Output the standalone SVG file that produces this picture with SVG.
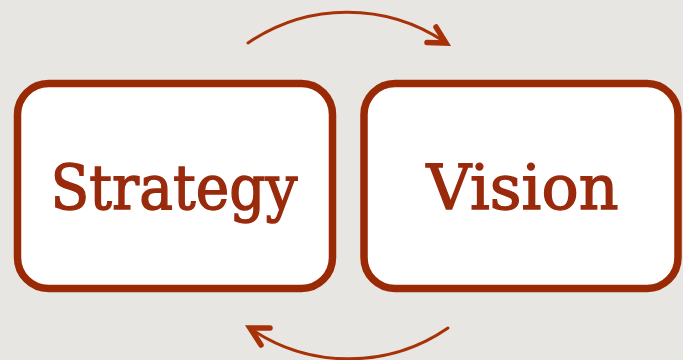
<svg xmlns="http://www.w3.org/2000/svg" width="683" height="360" viewBox="0 0 683 360">
  <style>
    .box { fill: #ffffff; stroke: #9a2a05; stroke-width: 7.5; }
    .label { fill: #9a2a0c; stroke: #9a2a0c; stroke-width: 1.4; font-family: "DejaVu Serif", "Liberation Serif", serif; font-size: 61px; text-anchor: middle; }
    .arc { fill: none; stroke: #a83208; stroke-width: 3; stroke-linecap: round; }
    .head { fill: none; stroke: #a83208; stroke-width: 5.5; stroke-linecap: round; stroke-linejoin: miter; }
  </style>
  <rect width="683" height="360" fill="#e8e6e2"/>

  <g id="strategy">
    <rect class="box" x="17.5" y="83.5" width="315" height="205" rx="31" ry="31"/>
    <text class="label" x="174" y="209" textLength="247" lengthAdjust="spacingAndGlyphs">Strategy</text>
  </g>

  <g id="vision">
    <rect class="box" x="364" y="83.5" width="314" height="205" rx="31" ry="31"/>
    <text class="label" x="522.5" y="209" textLength="192" lengthAdjust="spacingAndGlyphs">Vision</text>
  </g>

  <g id="connectors">
    <!-- Strategy to Vision, over the top -->
    <path class="arc" d="M248,43 A175,175 0 0 1 445,42"/>
    <path class="head" d="M427,42.5 L446,43 L436,27"/>
    <!-- Vision back to Strategy, along the bottom -->
    <path class="arc" d="M448,328 A175,175 0 0 1 251,329"/>
    <path class="head" d="M270,328 L250,328 L261,345"/>
  </g>
</svg>
